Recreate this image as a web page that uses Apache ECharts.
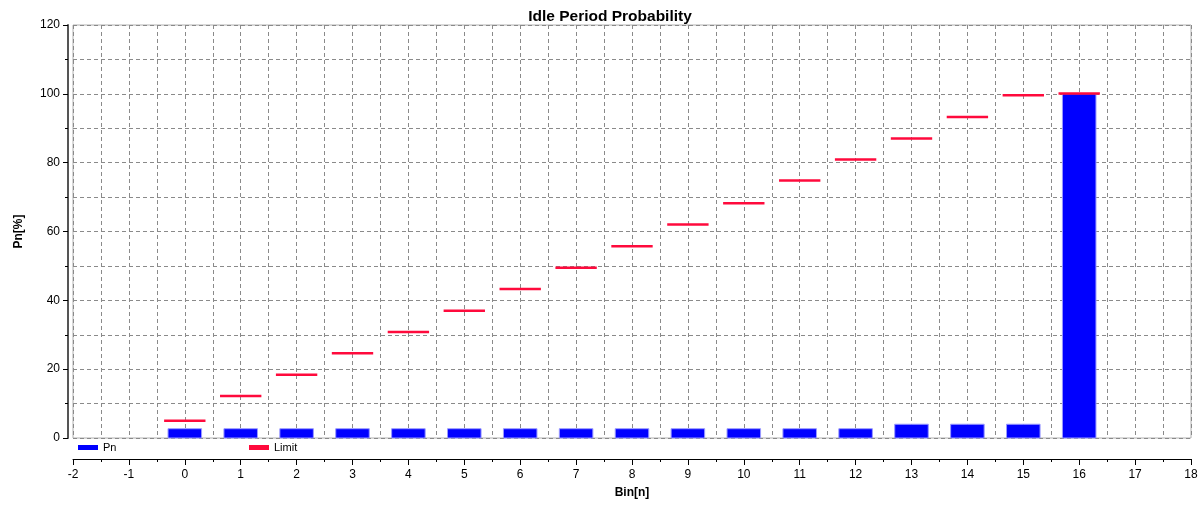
<!DOCTYPE html>
<html>
<head>
<meta charset="utf-8">
<script src="https://cdn.jsdelivr.net/npm/echarts@6/dist/echarts.min.js"></script>
<style>
html,body{margin:0;padding:0;background:#fff;}
#chart{width:1202px;height:507px;}
</style>
</head>
<body>
<div id="chart"></div>
<script>
// ---- data ----
const bins = [0, 1, 2, 3, 4, 5, 6, 7, 8, 9, 10, 11, 12, 13, 14, 15, 16];
const pnValues = [2.7, 2.7, 2.7, 2.7, 2.7, 2.7, 2.7, 2.7, 2.7, 2.7, 2.7, 2.7, 2.7, 4.0, 4.0, 4.0, 100];
const limitValues = [5.0, 12.2, 18.4, 24.6, 30.8, 37.0, 43.3, 49.5, 55.7, 62.0, 68.2, 74.8, 80.9, 87.0, 93.3, 99.6, 100.1];
const titleText = 'Idle Period Probability';
const xName = 'Bin[n]';
const yName = 'Pn[%]';

const FONT = 'Liberation Sans, Arial, sans-serif';
const BAR_HALF = 0.3;
const LIMIT_HALF = 0.37;
const dashed = { color: '#8a8a8a', width: 1, type: [4, 3] };

const chart = echarts.init(document.getElementById('chart'), null, { renderer: 'canvas' });

const option = {
  backgroundColor: '#ffffff',
  animation: false,
  title: {
    text: titleText,
    left: 605,
    top: 4,
    textAlign: 'center',
    textStyle: { fontFamily: FONT, fontSize: 15.5, fontWeight: 'bold', color: '#000' }
  },
  legend: [
    {
      data: [{ name: 'Pn', icon: 'rect' }],
      left: 73, top: 437,
      itemWidth: 20, itemHeight: 5, itemGap: 6,
      textStyle: { fontFamily: FONT, fontSize: 11, color: '#000' },
      selectedMode: false
    },
    {
      data: [{ name: 'Limit', icon: 'rect' }],
      left: 244, top: 437,
      itemWidth: 20, itemHeight: 5, itemGap: 6,
      textStyle: { fontFamily: FONT, fontSize: 11, color: '#000' },
      selectedMode: false
    }
  ],
  grid: {
    left: 73, right: 11, top: 25, bottom: 69,
    show: true, borderColor: '#b0b0b0', borderWidth: 1,
    containLabel: false
  },
  xAxis: {
    type: 'value',
    min: -2, max: 18, interval: 1,
    offset: 21,
    name: xName,
    nameLocation: 'middle',
    nameGap: 28,
    nameTextStyle: { fontFamily: FONT, fontSize: 12, fontWeight: 'bold', color: '#000' },
    axisLine: { show: true, onZero: false, lineStyle: { color: '#000', width: 1 } },
    axisTick: { show: true, length: 6, lineStyle: { color: '#000' } },
    minorTick: { show: true, splitNumber: 2, length: 3, lineStyle: { color: '#000' } },
    axisLabel: { fontFamily: FONT, fontSize: 12, color: '#000', margin: 10 },
    splitLine: { show: true, lineStyle: dashed },
    minorSplitLine: { show: true, lineStyle: dashed }
  },
  yAxis: {
    type: 'value',
    min: 0, max: 120, interval: 20,
    offset: 5,
    name: yName,
    nameLocation: 'middle',
    nameGap: 43,
    nameRotate: 90,
    nameTextStyle: { fontFamily: FONT, fontSize: 12, fontWeight: 'bold', color: '#000' },
    axisLine: { show: true, onZero: false, lineStyle: { color: '#555', width: 2 } },
    axisTick: { show: true, length: 5, lineStyle: { color: '#000' } },
    minorTick: { show: true, splitNumber: 2, length: 3, lineStyle: { color: '#000' } },
    axisLabel: { fontFamily: FONT, fontSize: 12, color: '#000', margin: 8 },
    splitLine: { show: true, lineStyle: dashed },
    minorSplitLine: { show: true, lineStyle: dashed }
  },
  series: [
    {
      name: 'Pn',
      type: 'custom',
      itemStyle: { color: '#0000ff' },
      data: bins.map((b, i) => [b, pnValues[i]]),
      encode: { x: 0, y: 1 },
      renderItem: function (params, api) {
        const x = api.value(0), y = api.value(1);
        const p0 = api.coord([x - BAR_HALF, 0]);
        const p1 = api.coord([x + BAR_HALF, y]);
        return {
          type: 'rect',
          shape: { x: p0[0], y: p1[1], width: p1[0] - p0[0], height: p0[1] - p1[1] },
          style: { fill: '#0000ff', stroke: '#9a9aff', lineWidth: 1 }
        };
      },
      z: 2
    },
    {
      name: 'Limit',
      type: 'custom',
      itemStyle: { color: '#ff0a3c' },
      data: bins.map((b, i) => [b, limitValues[i]]),
      encode: { x: 0, y: 1 },
      renderItem: function (params, api) {
        const x = api.value(0), y = api.value(1);
        const a = api.coord([x - LIMIT_HALF, y]);
        const b = api.coord([x + LIMIT_HALF, y]);
        return {
          type: 'line',
          shape: { x1: a[0], y1: a[1], x2: b[0], y2: b[1] },
          style: { stroke: '#ff0a3c', lineWidth: 2.5 }
        };
      },
      z: 3
    }
  ]
};
chart.setOption(option);
</script>
</body>
</html>
